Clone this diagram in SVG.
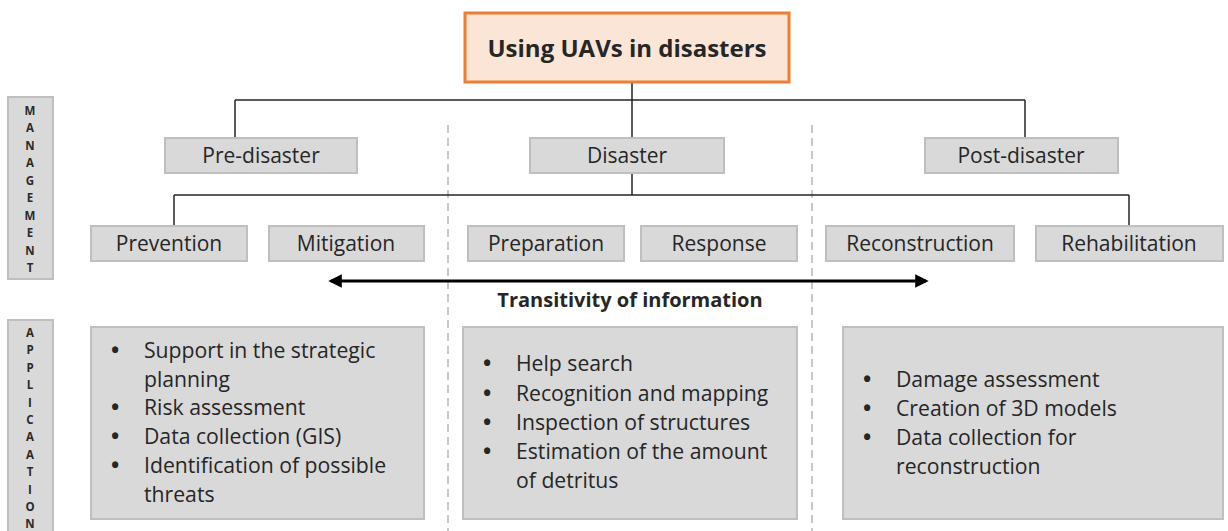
<svg xmlns="http://www.w3.org/2000/svg" width="1228" height="531" viewBox="0 0 1228 531">
  <defs>
    <marker id="head" viewBox="0 0 10 10" refX="8" refY="5" markerWidth="4.5" markerHeight="4.5" orient="auto-start-reverse" markerUnits="strokeWidth">
      <path d="M0,0 L10,5 L0,10 z" fill="#000"/>
    </marker>
    <style>
      text { font-family: "Open Sans", "Liberation Sans", sans-serif; fill: #262626; }
      .box { fill: #d9d9d9; stroke: #bfbfbf; stroke-width: 2; }
      .lbl { font-size: 21px; text-anchor: middle; }
      .item { font-size: 21.2px; }
      .dot { font-weight: bold; font-size: 22px; }
      .side { font-size: 11.5px; font-weight: bold; text-anchor: middle; fill: #2a2a2a; }
      .wire { stroke: #262626; stroke-width: 1.5; fill: none; }
      .sep { stroke: #c8c8c8; stroke-width: 2; stroke-dasharray: 8 5; fill: none; }
    </style>
  </defs>
  <rect width="1228" height="531" fill="#fff"/>

  <!-- phase separators -->
  <g id="separators">
    <line class="sep" x1="448" y1="125" x2="448" y2="531"/>
    <line class="sep" x1="812" y1="125" x2="812" y2="531"/>
  </g>

  <!-- tree connectors -->
  <g id="connectors">
    <path class="wire" d="M632,82 V100 M235,100 H1025 M235,100 V138 M632,100 V138 M1025,100 V138"/>
    <path class="wire" d="M632,173 V195 M174,195 H1129 M174,195 V226 M1129,195 V226"/>
    <line x1="331" y1="281" x2="926" y2="281" stroke="#000" stroke-width="3" marker-start="url(#head)" marker-end="url(#head)"/>
  </g>
  <text x="630" y="307" font-size="20" font-weight="bold" text-anchor="middle" fill="#000">Transitivity of information</text>

  <!-- side labels -->
  <g id="side-management">
    <rect class="box" x="8" y="97" width="45" height="182"/>
    <text class="side">
      <tspan x="30" y="115">M</tspan><tspan x="30" y="132">A</tspan><tspan x="30" y="150">N</tspan><tspan x="30" y="167">A</tspan><tspan x="30" y="185">G</tspan><tspan x="30" y="202">E</tspan><tspan x="30" y="220">M</tspan><tspan x="30" y="237">E</tspan><tspan x="30" y="255">N</tspan><tspan x="30" y="272">T</tspan>
    </text>
  </g>
  <g id="side-application">
    <rect class="box" x="8" y="320" width="45" height="215"/>
    <text class="side">
      <tspan x="30" y="337">A</tspan><tspan x="30" y="354">P</tspan><tspan x="30" y="372">P</tspan><tspan x="30" y="389">L</tspan><tspan x="30" y="407">I</tspan><tspan x="30" y="424">C</tspan><tspan x="30" y="441">A</tspan><tspan x="30" y="459">A</tspan><tspan x="30" y="476">T</tspan><tspan x="30" y="494">I</tspan><tspan x="30" y="511">O</tspan><tspan x="30" y="528">N</tspan>
    </text>
  </g>

  <!-- root -->
  <g id="root">
    <rect x="465" y="13" width="324" height="69" fill="#fbe5d6" stroke="#ed7d31" stroke-width="3"/>
    <text x="627" y="57" font-size="24" font-weight="bold" text-anchor="middle" fill="#1a1a1a">Using UAVs in disasters</text>
  </g>

  <!-- phases -->
  <g id="pre-disaster">
    <rect class="box" x="165" y="138" width="192" height="35"/>
    <text class="lbl" x="261" y="163">Pre-disaster</text>
  </g>
  <g id="disaster">
    <rect class="box" x="530" y="138" width="194" height="35"/>
    <text class="lbl" x="627" y="163">Disaster</text>
  </g>
  <g id="post-disaster">
    <rect class="box" x="925" y="138" width="193" height="35"/>
    <text class="lbl" x="1021" y="163">Post-disaster</text>
  </g>

  <!-- stages -->
  <g id="prevention">
    <rect class="box" x="91" y="226" width="156" height="35"/>
    <text class="lbl" x="169" y="251">Prevention</text>
  </g>
  <g id="mitigation">
    <rect class="box" x="269" y="226" width="155" height="35"/>
    <text class="lbl" x="346" y="251">Mitigation</text>
  </g>
  <g id="preparation">
    <rect class="box" x="468" y="226" width="156" height="35"/>
    <text class="lbl" x="546" y="251">Preparation</text>
  </g>
  <g id="response">
    <rect class="box" x="641" y="226" width="156" height="35"/>
    <text class="lbl" x="719" y="251">Response</text>
  </g>
  <g id="reconstruction">
    <rect class="box" x="826" y="226" width="188" height="35"/>
    <text class="lbl" x="920" y="251">Reconstruction</text>
  </g>
  <g id="rehabilitation">
    <rect class="box" x="1036" y="226" width="187" height="35"/>
    <text class="lbl" x="1129" y="251">Rehabilitation</text>
  </g>

  <!-- applications -->
  <g id="app-pre">
    <rect class="box" x="91" y="327" width="333" height="192"/>
    <text class="item">
      <tspan class="dot" x="111" y="358">•</tspan><tspan x="144" y="358">Support in the strategic</tspan>
      <tspan x="144" y="387">planning</tspan>
      <tspan class="dot" x="111" y="415">•</tspan><tspan x="144" y="415">Risk assessment</tspan>
      <tspan class="dot" x="111" y="444">•</tspan><tspan x="144" y="444">Data collection (GIS)</tspan>
      <tspan class="dot" x="111" y="473">•</tspan><tspan x="144" y="473">Identification of possible</tspan>
      <tspan x="144" y="502">threats</tspan>
    </text>
  </g>
  <g id="app-disaster">
    <rect class="box" x="463" y="327" width="334" height="192"/>
    <text class="item">
      <tspan class="dot" x="483" y="371">•</tspan><tspan x="516" y="371">Help search</tspan>
      <tspan class="dot" x="483" y="401">•</tspan><tspan x="516" y="401">Recognition and mapping</tspan>
      <tspan class="dot" x="483" y="430">•</tspan><tspan x="516" y="430">Inspection of structures</tspan>
      <tspan class="dot" x="483" y="459">•</tspan><tspan x="516" y="459">Estimation of the amount</tspan>
      <tspan x="516" y="488">of detritus</tspan>
    </text>
  </g>
  <g id="app-post">
    <rect class="box" x="843" y="327" width="380" height="192"/>
    <text class="item">
      <tspan class="dot" x="863" y="387">•</tspan><tspan x="896" y="387">Damage assessment</tspan>
      <tspan class="dot" x="863" y="416">•</tspan><tspan x="896" y="416">Creation of 3D models</tspan>
      <tspan class="dot" x="863" y="445">•</tspan><tspan x="896" y="445">Data collection for</tspan>
      <tspan x="896" y="474">reconstruction</tspan>
    </text>
  </g>
</svg>
